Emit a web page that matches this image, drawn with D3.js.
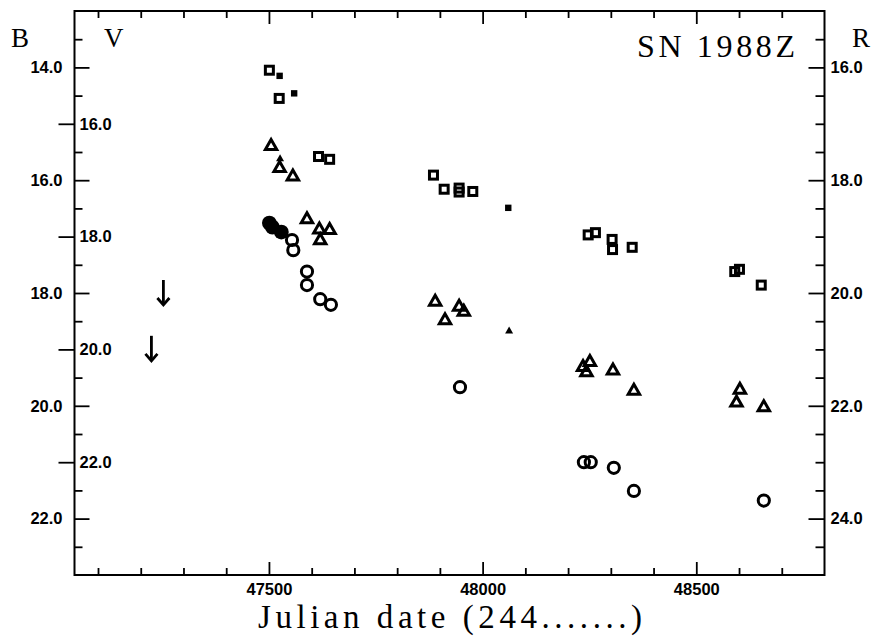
<!DOCTYPE html>
<html><head><meta charset="utf-8">
<script src="https://cdn.jsdelivr.net/npm/d3@7"></script>
<style>body{margin:0;background:#fff}</style>
</head><body><svg id="c" width="876" height="637"></svg>
<script>
// ---- data (Julian date - 2400000, magnitude in own band) ----
const rOpen = [[47501,16.05],[47524,16.55],[47616,17.58],[47642,17.63],[47885,17.91],[47910,18.16],[47945,18.14],[47945,18.21],[47977,18.20],[48247,18.97],[48264,18.93],[48303,19.05],[48304,19.23],[48350,19.19],[48590,19.62],[48601,19.58],[48652,19.86]];
const rFilled = [[47525,16.15],[47559,16.46],[48060,18.49]];
const vOpen = [[47505,16.39],[47525,16.78],[47556,16.93],[47589,17.69],[47618,17.87],[47642,17.88],[47620,18.06],[47889,19.15],[47912,19.48],[47945,19.24],[47956,19.33],[48235,20.31],[48251,20.22],[48243,20.40],[48305,20.37],[48354,20.73],[48602,20.71],[48594,20.94],[48658,21.02]];
const vFilled = [[47526,16.62],[48062,19.67]];
const bOpen = [[47554,17.06],[47557,17.24],[47589,17.62],[47589,17.86],[47620,18.11],[47645,18.21],[47947,19.67],[48237,21.00],[48253,21.00],[48307,21.10],[48354,21.51],[48658,21.68]];
const bFilled = [[47501,16.76],[47508,16.83],[47529,16.92]];
const upperLimits = [[47253,18.23],[47225,19.22]];
const dateTicks = [47500,48000,48500];
const bTicks = [14,16,18,20,22];
const vTicks = [16,18,20,22];
const rTicks = [16,18,20,22,24];

// ---- scales ----
const L = 74.5, R = 824.5, T = 11, B = 575;
const x = d3.scaleLinear().domain([47045,48800]).range([L,R]);
const yB = d3.scaleLinear().domain([13,23]).range([T,B]);
const yV = d3.scaleLinear().domain([14,24]).range([T,B]);
const yR = d3.scaleLinear().domain([15,25]).range([T,B]);

const svg = d3.select("#c");
svg.append("rect").attr("width",876).attr("height",637).attr("fill","#fff");

const tickFont = g => g.selectAll("text").attr("font-family","Liberation Sans, Arial, sans-serif")
  .attr("font-weight","bold").attr("font-size",16.5).attr("fill","#000");
const clean = g => { g.select(".domain").remove(); g.selectAll("line").attr("stroke","#000").attr("stroke-width",1.8); };

// bottom axis
const minorX = d3.range(47100,48800,100).filter(v=>v%500!==0);
svg.append("g").attr("transform",`translate(0,${B})`)
  .call(d3.axisBottom(x).tickValues(minorX).tickSizeInner(-7).tickSizeOuter(0).tickFormat(""))
  .call(clean);
svg.append("g").attr("transform",`translate(0,${B})`)
  .call(d3.axisBottom(x).tickValues(dateTicks).tickSizeInner(-13).tickSizeOuter(0).tickPadding(8).tickFormat(d3.format("d")))
  .call(clean).call(tickFont);
// top axis
svg.append("g").attr("transform",`translate(0,${T})`)
  .call(d3.axisTop(x).tickValues(minorX).tickSizeInner(-7).tickSizeOuter(0).tickFormat(""))
  .call(clean);
svg.append("g").attr("transform",`translate(0,${T})`)
  .call(d3.axisTop(x).tickValues(dateTicks).tickSizeInner(-13).tickSizeOuter(0).tickFormat(""))
  .call(clean);

// left axis: B (inward majors, labels outside), V (outward majors, labels inside)
const halfB = d3.range(13.5,23,1);
svg.append("g").attr("transform",`translate(${L},0)`)
  .call(d3.axisLeft(yB).tickValues(halfB).tickSizeInner(-8).tickSizeOuter(0).tickFormat(""))
  .call(clean);
svg.append("g").attr("transform",`translate(${L},0)`)
  .call(d3.axisLeft(yB).tickValues(bTicks).tickSizeInner(-15).tickSizeOuter(0).tickPadding(12).tickFormat(d3.format(".1f")))
  .call(clean).call(tickFont);
svg.append("g").attr("transform",`translate(${L},0)`)
  .call(d3.axisRight(yV).tickValues(vTicks).tickSizeInner(-16).tickSizeOuter(0).tickPadding(5).tickFormat(d3.format(".1f")))
  .call(clean).call(tickFont);

// right axis: R
const minorR = d3.range(15.5,25,0.5).filter(v=>!(v%2===0));
svg.append("g").attr("transform",`translate(${R},0)`)
  .call(d3.axisRight(yR).tickValues(minorR).tickSizeInner(-9).tickSizeOuter(0).tickFormat(""))
  .call(clean);
svg.append("g").attr("transform",`translate(${R},0)`)
  .call(d3.axisRight(yR).tickValues(rTicks).tickSizeInner(-16).tickSizeOuter(0).tickPadding(6).tickFormat(d3.format(".1f")))
  .call(clean).call(tickFont);

// frame
svg.append("rect").attr("x",L).attr("y",T).attr("width",R-L).attr("height",B-T)
  .attr("fill","none").attr("stroke","#000").attr("stroke-width",2);

// labels
const serif = "Liberation Serif, Times New Roman, serif";
svg.append("text").attr("x",11).attr("y",47).attr("font-family",serif).attr("font-size",27).text("B");
svg.append("text").attr("x",104).attr("y",47).attr("font-family",serif).attr("font-size",27).text("V");
svg.append("text").attr("x",852).attr("y",47).attr("font-family",serif).attr("font-size",27).text("R");
svg.append("text").attr("x",795).attr("y",57).attr("text-anchor","end")
  .attr("font-family",serif).attr("font-size",32)
  .attr("textLength",158).attr("lengthAdjust","spacing").text("SN 1988Z");
svg.append("text").attr("x",258).attr("y",628)
  .attr("font-family",serif).attr("font-size",33)
  .attr("textLength",384).attr("lengthAdjust","spacing").text("Julian date (244.......)");

// marks
const g = svg.append("g");
// R: squares
g.selectAll(".ro").data(rOpen).join("rect")
  .attr("x",d=>x(d[0])-4).attr("y",d=>yR(d[1])-4).attr("width",8).attr("height",8)
  .attr("fill","none").attr("stroke","#000").attr("stroke-width",3);
g.selectAll(".rf").data(rFilled).join("rect")
  .attr("x",d=>x(d[0])-3.2).attr("y",d=>yR(d[1])-3.2).attr("width",6.4).attr("height",6.4).attr("fill","#000");
// V: triangles
const tri = (cx,cy,s)=>`M${cx},${cy-s*1.1}L${cx-s},${cy+s*0.65}L${cx+s},${cy+s*0.65}Z`;
g.selectAll(".vo").data(vOpen).join("path")
  .attr("d",d=>tri(x(d[0]),yV(d[1]),5.7))
  .attr("fill","none").attr("stroke","#000").attr("stroke-width",3).attr("stroke-linejoin","miter");
g.selectAll(".vf").data(vFilled).join("path")
  .attr("d",d=>tri(x(d[0]),yV(d[1]),4)).attr("fill","#000");
// B: circles
g.selectAll(".bf").data(bFilled).join("circle")
  .attr("cx",d=>x(d[0])).attr("cy",d=>yB(d[1])).attr("r",7.4).attr("fill","#000");
g.selectAll(".bo").data(bOpen).join("circle")
  .attr("cx",d=>x(d[0])).attr("cy",d=>yB(d[1])).attr("r",5.6)
  .attr("fill","none").attr("stroke","#000").attr("stroke-width",3);
// upper limits (arrows)
const ar = g.selectAll(".ul").data(upperLimits).join("g");
ar.append("line").attr("x1",d=>x(d[0])).attr("x2",d=>x(d[0]))
  .attr("y1",d=>yB(d[1])-26).attr("y2",d=>yB(d[1])-1)
  .attr("stroke","#000").attr("stroke-width",2.8);
ar.append("path").attr("d",d=>{const cx=x(d[0]),cy=yB(d[1]);return `M${cx-6},${cy-8}L${cx},${cy-1}L${cx+6},${cy-8}`;})
  .attr("fill","none").attr("stroke","#000").attr("stroke-width",2.8);
</script></body></html>
